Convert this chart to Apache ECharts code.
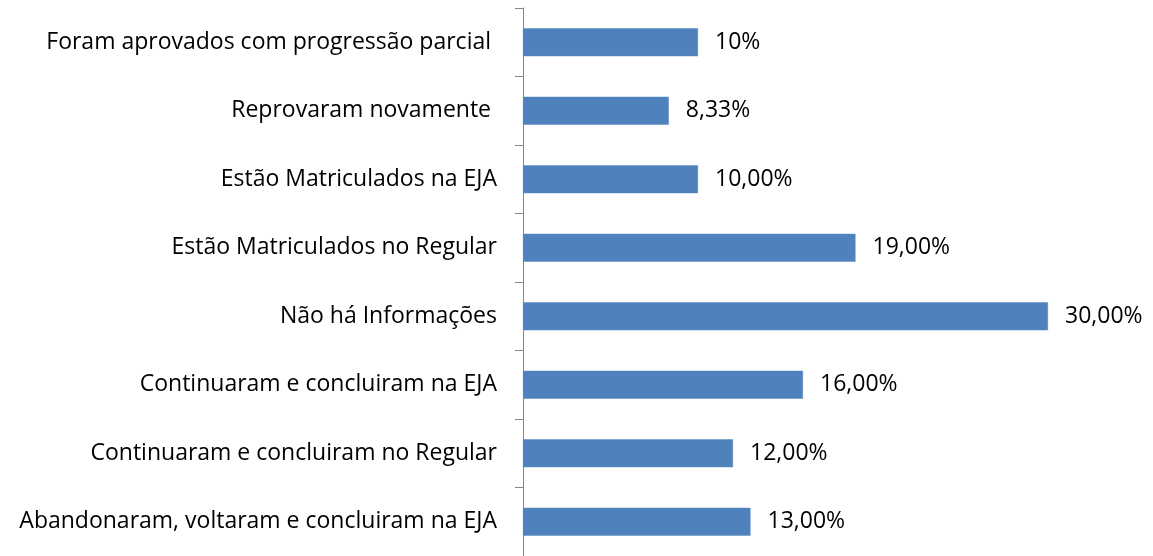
<!DOCTYPE html>
<html>
<head>
<meta charset="utf-8">
<script src="https://cdn.jsdelivr.net/npm/echarts@6/dist/echarts.min.js"></script>
<style>
  html, body { margin: 0; padding: 0; background: #fff; }
  #main { width: 1153px; height: 556px; }
</style>
</head>
<body>
<div id="main"></div>
<script>
// categories top to bottom
var categories = [
  'Foram aprovados com progressão parcial ',
  'Reprovaram novamente ',
  'Estão Matriculados na EJA',
  'Estão Matriculados no Regular',
  'Não há Informações',
  'Continuaram e concluiram na EJA',
  'Continuaram e concluiram no Regular',
  'Abandonaram, voltaram e concluiram na EJA'
];
var values = [10, 8.33, 10, 19, 30, 16, 12, 13];
var valueLabels = ['10%', '8,33%', '10,00%', '19,00%', '30,00%', '16,00%', '12,00%', '13,00%'];

var font = 'Open Sans';
var myChart = echarts.init(document.getElementById('main'));
myChart.setOption({
  animation: false,
  grid: { left: 523, top: 8, width: 612.5, bottom: 0 },
  xAxis: {
    type: 'value',
    min: 0,
    max: 35,
    show: false
  },
  yAxis: {
    type: 'category',
    inverse: true,
    data: categories,
    axisLine: { lineStyle: { color: '#868686', width: 1 } },
    axisTick: { show: true, length: 8, lineStyle: { color: '#868686' } },
    axisLabel: { margin: 26, color: '#000', fontSize: 23, fontFamily: font }
  },
  series: [{
    type: 'bar',
    data: values,
    barWidth: 28,
    itemStyle: { color: '#4F81BD', borderColor: '#5b8cc6', borderWidth: 0.5 },
    label: {
      show: true,
      position: 'right',
      distance: 17,
      color: '#000',
      fontSize: 23,
      fontFamily: font,
      formatter: function (p) { return valueLabels[p.dataIndex]; }
    }
  }]
});
</script>
</body>
</html>
